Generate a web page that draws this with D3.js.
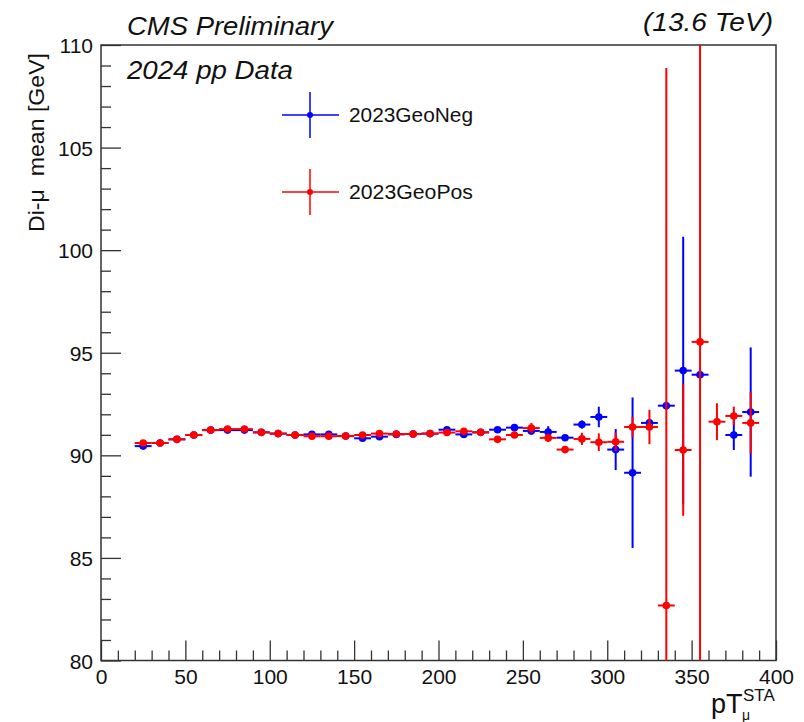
<!DOCTYPE html>
<html><head><meta charset="utf-8">
<script src="https://cdn.jsdelivr.net/npm/d3@7"></script>
<style>
body{margin:0;background:#fff}
svg{display:block}
text{font-family:"Liberation Sans",Arial,Helvetica,sans-serif;fill:#111}
</style>
</head><body>
<svg id="c" width="804" height="722"></svg>
<script>
// ---- data ----
const binCenters = [25,35,45,55,65,75,85,95,105,115,125,135,145,155,165,175,185,195,205,215,225,235,245,255,265,275,285,295,305,315,325,335,345,355,365,375,385];
const binHalfWidth = 5;
const negMean = [90.45,90.60,90.78,90.99,91.23,91.23,91.23,91.12,91.06,90.99,91.02,91.02,90.94,90.83,90.91,91.02,91.04,91.06,91.25,91.02,91.12,91.25,91.35,91.19,91.14,90.86,91.50,91.87,90.28,89.15,91.58,92.42,94.13,93.93,null,90.99,92.11];
const negErr  = [0.05,0.05,0.05,0.05,0.05,0.05,0.05,0.05,0.05,0.05,0.05,0.05,0.05,0.05,0.05,0.05,0.05,0.06,0.07,0.07,0.08,0.08,0.12,0.18,0.28,0.15,0.2,0.5,1.0,3.67,0.15,0.2,6.52,0.2,null,0.73,3.15];
const posMean = [90.60,90.60,90.78,90.99,91.23,91.28,91.28,91.12,91.06,90.99,90.93,90.93,90.94,90.99,91.06,91.04,91.04,91.06,91.11,91.17,91.12,90.78,90.99,91.33,90.85,90.28,90.80,90.64,90.66,91.38,91.38,82.68,90.26,95.53,91.64,91.92,91.58];
const posErr  = [0.05,0.05,0.05,0.05,0.05,0.05,0.05,0.05,0.05,0.05,0.05,0.05,0.05,0.05,0.05,0.05,0.05,0.06,0.07,0.07,0.08,0.08,0.1,0.25,0.2,0.15,0.3,0.43,0.45,0.5,0.84,26.2,3.2,20.0,0.9,0.45,1.5];
const xTicks = [0,50,100,150,200,250,300,350,400];
const yTicks = [80,85,90,95,100,105,110];
const seriesNames = ["2023GeoNeg","2023GeoPos"];
const seriesColors = ["#0000ff","#ff0000"];

// ---- layout ----
const L = 101, R = 776, T = 45, B = 660.5;
const svg = d3.select("#c");
const x = d3.scaleLinear().domain([0,400]).range([L,R]);
const y = d3.scaleLinear().domain([80,110]).range([B,T]);
const axisColor = "#333";

svg.append("defs").append("clipPath").attr("id","clip")
  .append("rect").attr("x",L).attr("y",T).attr("width",R-L).attr("height",B-T);

// minor ticks
const xMinor = d3.range(0,401,10).filter(v=>v%50!==0);
const yMinor = d3.range(80,111,1).filter(v=>v%5!==0);
const gxm = svg.append("g").attr("transform",`translate(0,${B})`)
  .call(d3.axisBottom(x).tickValues(xMinor).tickSize(-10).tickFormat(""));
const gym = svg.append("g").attr("transform",`translate(${L},0)`)
  .call(d3.axisLeft(y).tickValues(yMinor).tickSize(-10).tickFormat(""));
// major
const gx = svg.append("g").attr("transform",`translate(0,${B})`)
  .call(d3.axisBottom(x).tickValues(xTicks).tickSize(-20).tickPadding(9).tickFormat(d3.format("d")));
const gy = svg.append("g").attr("transform",`translate(${L},0)`)
  .call(d3.axisLeft(y).tickValues(yTicks).tickSize(-20).tickPadding(8).tickFormat(d3.format("d")));
[gxm,gym,gx,gy].forEach(g=>{
  g.select(".domain").remove();
  g.selectAll("line").attr("stroke",axisColor).attr("stroke-width",1.3);
  g.selectAll("text").attr("font-size",21).attr("fill","#111")
    .style("font-family","'Liberation Sans',Arial,sans-serif");
});
gy.selectAll("text").attr("dy","0.36em");

// frame
svg.append("rect").attr("x",L).attr("y",T).attr("width",R-L).attr("height",B-T)
  .attr("fill","none").attr("stroke",axisColor).attr("stroke-width",1.5);

// data
const plot = svg.append("g").attr("clip-path","url(#clip)");
function drawSeries(means, errs, color){
  const pts = binCenters.map((c,i)=>({c, m:means[i], e:errs[i]})).filter(d=>d.m!==null);
  const g = plot.append("g");
  g.selectAll(".h").data(pts).join("line")
    .attr("x1",d=>x(d.c-binHalfWidth)).attr("x2",d=>x(d.c+binHalfWidth))
    .attr("y1",d=>y(d.m)).attr("y2",d=>y(d.m))
    .attr("stroke",color).attr("stroke-width",2);
  g.selectAll(".v").data(pts).join("line")
    .attr("x1",d=>x(d.c)).attr("x2",d=>x(d.c))
    .attr("y1",d=>y(d.m-d.e)).attr("y2",d=>y(d.m+d.e))
    .attr("stroke",color).attr("stroke-width",2);
  g.selectAll("circle").data(pts).join("circle")
    .attr("cx",d=>x(d.c)).attr("cy",d=>y(d.m)).attr("r",3.8).attr("fill",color);
}
drawSeries(negMean,negErr,seriesColors[0]);
drawSeries(posMean,posErr,seriesColors[1]);

// legend
const legY = [115,192];
seriesNames.forEach((name,i)=>{
  const g = svg.append("g");
  const cx = 310, cy = legY[i];
  g.append("line").attr("x1",282).attr("x2",339).attr("y1",cy).attr("y2",cy).attr("stroke",seriesColors[i]).attr("stroke-width",1.5);
  g.append("line").attr("x1",cx).attr("x2",cx).attr("y1",cy-23).attr("y2",cy+23).attr("stroke",seriesColors[i]).attr("stroke-width",1.5);
  g.append("circle").attr("cx",cx).attr("cy",cy).attr("r",3).attr("fill",seriesColors[i]);
  g.append("text").attr("x",349).attr("y",cy).attr("dy","0.36em").attr("font-size",20)
    .attr("textLength",124).attr("lengthAdjust","spacingAndGlyphs").text(name);
});

// titles
svg.append("text").attr("x",127).attr("y",35).attr("font-size",26).attr("font-style","italic")
  .attr("textLength",206).attr("lengthAdjust","spacingAndGlyphs").text("CMS Preliminary");
svg.append("text").attr("x",643).attr("y",31).attr("font-size",25).attr("font-style","italic")
  .attr("textLength",130).attr("lengthAdjust","spacingAndGlyphs").text("(13.6 TeV)");
svg.append("text").attr("x",127).attr("y",79).attr("font-size",26).attr("font-style","italic")
  .attr("textLength",166).attr("lengthAdjust","spacingAndGlyphs").text("2024 pp Data");

// y title
svg.append("text").attr("transform","translate(44,53) rotate(-90)")
  .attr("font-size",22).attr("x",-179)
  .attr("textLength",179).attr("lengthAdjust","spacingAndGlyphs").text("Di-\u03bc\u00a0 mean [GeV]");

// x title
const xt = svg.append("g");
xt.append("text").attr("x",711).attr("y",713).attr("font-size",27).text("pT");
xt.append("text").attr("x",743).attr("y",701).attr("font-size",17).text("STA");
xt.append("text").attr("x",742).attr("y",720).attr("font-size",14).text("\u03bc");
</script>
</body></html>
